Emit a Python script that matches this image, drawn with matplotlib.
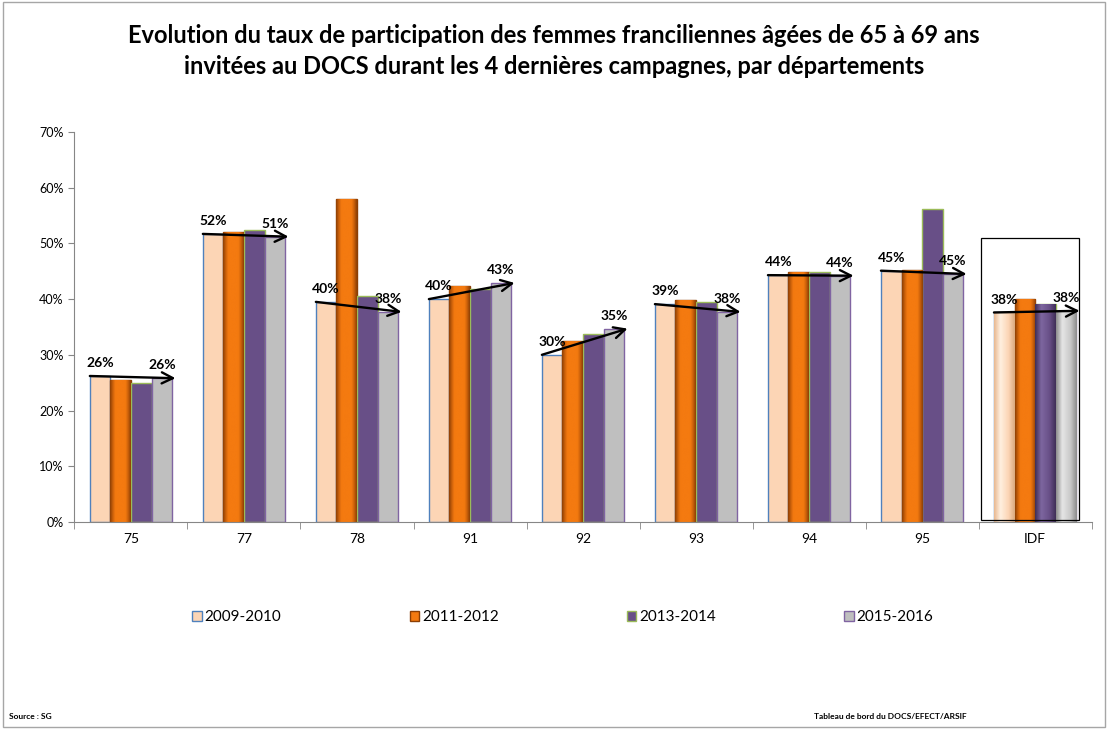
import numpy as np
import matplotlib
matplotlib.use("Agg")
import matplotlib.pyplot as plt
from matplotlib.patches import Rectangle, FancyArrowPatch
from matplotlib.colors import LinearSegmentedColormap
from matplotlib.ticker import PercentFormatter, FixedLocator

plt.rcParams['font.family'] = ['Lato', 'DejaVu Sans']

# ---- data ----
categories = ["75", "77", "78", "91", "92", "93", "94", "95", "IDF"]
series_names = ["2009-2010", "2011-2012", "2013-2014", "2015-2016"]
v2009 = [26.2, 51.7, 39.5, 40.0, 30.0, 39.1, 44.3, 45.1, 37.6]
v2011 = [25.5, 52.1, 57.9, 42.4, 32.5, 39.9, 44.9, 45.2, 40.0]
v2013 = [24.9, 52.4, 40.6, 41.8, 33.8, 39.5, 44.8, 56.1, 39.2]
v2015 = [25.8, 51.2, 37.7, 42.9, 34.7, 37.7, 44.2, 44.5, 37.9]
first_labels = ["26%", "52%", "40%", "40%", "30%", "39%", "44%", "45%", "38%"]
last_labels = ["26%", "51%", "38%", "43%", "35%", "38%", "44%", "45%", "38%"]

title = ("Evolution du taux de participation des femmes franciliennes âgées de 65 à 69 ans\n"
         "invitées au DOCS durant les 4 dernières campagnes, par départements")

values = [v2009, v2011, v2013, v2015]
faces = ["#FCD5B5", "#F47A10", "#684F87", "#BFBFBF"]
edges = ["#4F81BD", "#8B3F05", "#9BBB59", "#8064A2"]

fig = plt.figure(figsize=(11.08, 7.29), dpi=100)
fig.patches.append(Rectangle((0.003, 0.003), 0.994, 0.994, transform=fig.transFigure,
                             fill=False, edgecolor="#A6A6A6", lw=1.0))

ax = fig.add_axes([0.0672, 0.284, 0.918, 0.535])
x = np.arange(len(categories))
w = 0.182
offsets = (np.arange(4) - 1.5) * w

def gradient_fill(patch, stops, axis):
    bb = patch.get_bbox()
    cmap = LinearSegmentedColormap.from_list("g", stops)
    grad = np.linspace(0, 1, 64)[None, :]
    im = axis.imshow(grad, cmap=cmap, aspect="auto",
                     extent=[bb.x0, bb.x1, bb.y0, bb.y1], zorder=patch.get_zorder() + 0.1,
                     interpolation="bicubic")
    im.set_clip_path(patch)

containers = []
for i in range(4):
    c = ax.bar(x + offsets[i], np.array(values[i]) / 100.0, width=w,
               color=faces[i], edgecolor=edges[i], linewidth=1.0, zorder=2)
    containers.append(c)

# bevel look for orange bars
orange_stops = [(0, "#8B3F05"), (0.12, "#C75E0A"), (0.25, "#F47A10"),
                (0.75, "#F47A10"), (0.88, "#C75E0A"), (1, "#8B3F05")]
for p in containers[1]:
    gradient_fill(p, orange_stops, ax)
# glossy IDF group
idf = len(categories) - 1
gloss = [
    [(0, "#E8B890"), (0.3, "#FFF0E0"), (0.7, "#FCD5B5"), (1, "#D9A97F")],
    orange_stops,
    [(0, "#3F2E56"), (0.3, "#7E67A0"), (0.7, "#684F87"), (1, "#3F2E56")],
    [(0, "#8C8C8C"), (0.3, "#E6E6E6"), (0.7, "#C8C8C8"), (1, "#8C8C8C")],
]
for i in range(4):
    gradient_fill(containers[i][idf], gloss[i], ax)
for c in containers:
    for p in c:
        p.set_zorder(2)

# trend arrows and labels
for k in range(len(categories)):
    p0 = containers[0][k]
    p3 = containers[3][k]
    y0 = v2009[k] / 100.0
    y3 = v2015[k] / 100.0
    arr = FancyArrowPatch((p0.get_x(), y0), (p3.get_x() + p3.get_width() + 0.03, y3),
                          arrowstyle="->,head_length=8,head_width=4", color="black",
                          lw=1.7, zorder=5, shrinkA=0, shrinkB=0)
    ax.add_patch(arr)
    ax.annotate(first_labels[k], (p0.get_x() + p0.get_width() / 2, y0),
                xytext=(0, 5), textcoords="offset points", ha="center", va="bottom",
                fontsize=10, fontweight="bold", zorder=6)
    ax.annotate(last_labels[k], (p3.get_x() + p3.get_width() / 2, y3),
                xytext=(0, 5), textcoords="offset points", ha="center", va="bottom",
                fontsize=10, fontweight="bold", zorder=6)

# IDF highlight box
ax.add_patch(Rectangle((idf - 0.48, 0.003), 0.87, 0.507, fill=False,
                       edgecolor="black", lw=0.9, zorder=4))

ax.set_xlim(-0.5, len(categories) - 0.5)
ax.set_ylim(0, 0.7)
ax.set_yticks(np.arange(0, 0.71, 0.1))
ax.yaxis.set_major_formatter(PercentFormatter(1.0, decimals=0))
ax.set_xticks(x)
ax.set_xticklabels(categories)
ax.xaxis.set_minor_locator(FixedLocator(np.arange(-0.5, len(categories), 1.0)))
ax.tick_params(axis="x", which="major", length=0, labelsize=10, pad=8)
ax.tick_params(axis="x", which="minor", length=5, color="#868686", direction="out")
ax.tick_params(axis="y", length=4, color="#868686", labelsize=9, direction="out", pad=4)
for s in ["top", "right"]:
    ax.spines[s].set_visible(False)
for s in ["left", "bottom"]:
    ax.spines[s].set_color("#868686")
    ax.spines[s].set_linewidth(0.8)

handles = [Rectangle((0, 0), 1, 1, facecolor=faces[i], edgecolor=edges[i], lw=1.0)
           for i in range(4)]
fig.legend(handles, series_names, loc="center", bbox_to_anchor=(0.508, 0.153), ncol=4,
           frameon=False, fontsize=11, handlelength=0.6, handleheight=0.6,
           handletextpad=0.2, columnspacing=8.4)

fig.text(0.5, 0.93, title, ha="center", va="center", fontsize=17, fontweight="bold",
         linespacing=1.45)
fig.text(0.008, 0.012, "Source : SG", fontsize=6, fontweight="bold", ha="left", va="bottom")
fig.text(0.735, 0.012, "Tableau de bord du DOCS/EFECT/ARSIF", fontsize=6, fontweight="bold",
         ha="left", va="bottom")

fig.savefig("out.png", dpi=100)
